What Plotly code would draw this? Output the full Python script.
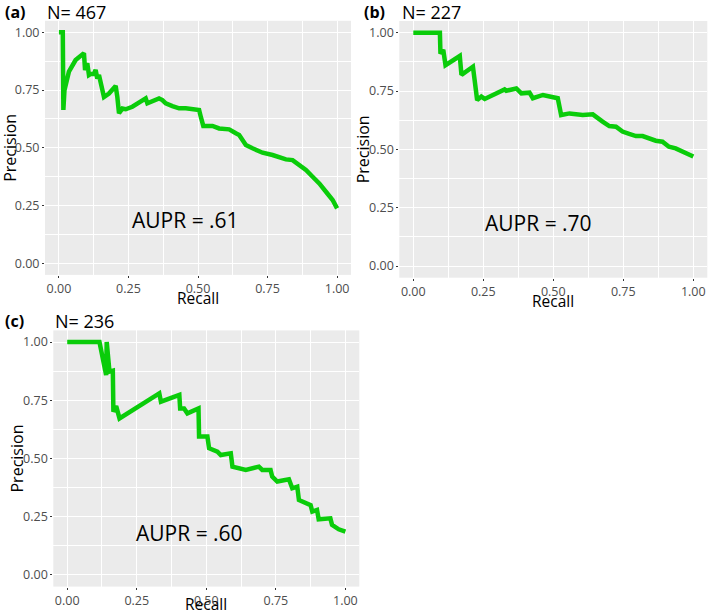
import plotly.graph_objects as go

W, H = 709, 615

# panel (a) N=467
a_recall = [0.0, 0.014, 0.016, 0.02, 0.036, 0.06, 0.09, 0.094, 0.102, 0.108, 0.115, 0.126, 0.132,
            0.138, 0.144, 0.15, 0.162, 0.18, 0.204, 0.21, 0.216, 0.228, 0.24, 0.264, 0.312, 0.318,
            0.36, 0.372, 0.384, 0.408, 0.432, 0.456, 0.504, 0.51, 0.519, 0.552, 0.576, 0.612, 0.624,
            0.636, 0.648, 0.66, 0.672, 0.696, 0.732, 0.768, 0.792, 0.816, 0.84, 0.864, 0.888, 0.912,
            0.936, 0.96, 0.984, 1.0]
a_precision = [1.0, 1.0, 0.664, 0.75, 0.83, 0.88, 0.91, 0.837, 0.866, 0.815, 0.82, 0.82, 0.837,
               0.80, 0.815, 0.78, 0.72, 0.735, 0.768, 0.72, 0.65, 0.67, 0.667, 0.678, 0.714, 0.693,
               0.714, 0.707, 0.693, 0.681, 0.671, 0.671, 0.664, 0.635, 0.595, 0.595, 0.584, 0.58, 0.574,
               0.563, 0.556, 0.534, 0.512, 0.498, 0.479, 0.469, 0.459, 0.45, 0.447, 0.426, 0.404, 0.375,
               0.346, 0.31, 0.274, 0.238]

# panel (b) N=227
b_recall = [0.0, 0.095, 0.097, 0.107, 0.115, 0.166, 0.172, 0.213, 0.219, 0.228, 0.243, 0.255, 0.326,
            0.332, 0.368, 0.386, 0.415, 0.427, 0.463, 0.486, 0.516, 0.528, 0.558, 0.605, 0.641, 0.676,
            0.7, 0.724, 0.747, 0.771, 0.795, 0.819, 0.842, 0.866, 0.89, 0.913, 0.937, 0.961, 1.0]
b_precision = [1.0, 1.0, 0.91, 0.926, 0.861, 0.9, 0.819, 0.854, 0.797, 0.711, 0.726, 0.716, 0.757,
               0.751, 0.761, 0.74, 0.743, 0.719, 0.733, 0.729, 0.719, 0.647, 0.654, 0.647, 0.65, 0.619,
               0.6, 0.597, 0.576, 0.566, 0.557, 0.557, 0.547, 0.537, 0.533, 0.511, 0.504, 0.49, 0.469]

# panel (c) N=236
c_recall = [0.0, 0.116, 0.14, 0.142, 0.152, 0.164, 0.166, 0.176, 0.188, 0.331, 0.337, 0.403, 0.406,
            0.42, 0.432, 0.472, 0.474, 0.504, 0.51, 0.54, 0.552, 0.588, 0.594, 0.618, 0.642, 0.689,
            0.701, 0.731, 0.737, 0.755, 0.797, 0.809, 0.827, 0.833, 0.857, 0.875, 0.881, 0.898, 0.904,
            0.946, 0.952, 0.964, 0.976, 1.0]
c_precision = [1.0, 1.0, 0.858, 1.0, 0.873, 0.877, 0.701, 0.725, 0.672, 0.78, 0.744, 0.773, 0.715,
               0.715, 0.694, 0.715, 0.594, 0.594, 0.544, 0.529, 0.515, 0.522, 0.465, 0.458, 0.451, 0.465,
               0.451, 0.451, 0.422, 0.401, 0.411, 0.372, 0.379, 0.322, 0.31, 0.3, 0.272, 0.279, 0.239,
               0.243, 0.215, 0.207, 0.196, 0.186]

panel_tags = ['(a)', '(b)', '(c)']
panel_n = ['N= 467', 'N= 227', 'N= 236']
aupr_labels = ['AUPR = .61', 'AUPR = .70', 'AUPR = .60']
tick_vals = [0, 0.25, 0.5, 0.75, 1.0]
tick_text = ['0.00', '0.25', '0.50', '0.75', '1.00']

GREEN = '#0ACC0A'
FONT = 'Open Sans'


def px_x(p):
    return p / W


def px_y(p):
    return 1 - p / H


# pixel boxes of the three panels: left, right, top, bottom
boxes = [(45, 351, 20.8, 274.9), (399.3, 707.3, 21, 277.7), (53.3, 359.3, 330.4, 586.6)]
series = [(a_recall, a_precision), (b_recall, b_precision), (c_recall, c_precision)]

fig = go.Figure()
anns = []
for i, ((l, r, t, b), (rx, ry)) in enumerate(zip(boxes, series)):
    sfx = '' if i == 0 else str(i + 1)
    fig.add_trace(go.Scatter(x=rx, y=ry, mode='lines', line=dict(color=GREEN, width=4.5),
                             xaxis='x' + sfx, yaxis='y' + sfx, showlegend=False))
    ax = dict(range=[-0.05, 1.05], tickvals=tick_vals, ticktext=tick_text, showgrid=True,
              gridcolor='white', gridwidth=1.3, zeroline=False, ticks='outside', ticklen=2,
              tickcolor='#333333', tickfont=dict(family=FONT, size=12.5, color='#4D4D4D'),
              minor=dict(showgrid=True, gridcolor='white', gridwidth=0.6, tickvals=[0.125, 0.375, 0.625, 0.875]),
              showline=False, fixedrange=True)
    fig.update_layout(**{
        'xaxis' + sfx: dict(ax, domain=[px_x(l), px_x(r)], anchor='y' + sfx),
        'yaxis' + sfx: dict(ax, domain=[px_y(b), px_y(t)], anchor='x' + sfx),
    })
    # panel tag and N
    tag_x = 3 if i != 1 else 362
    anns.append(dict(x=px_x(tag_x), y=px_y(t - 9), xref='paper', yref='paper', text='<b>' + panel_tags[i] + '</b>',
                     showarrow=False, xanchor='left', yanchor='middle', font=dict(family=FONT, size=16, color='black')))
    n_x = 45 if i == 0 else (400 if i == 1 else 53)
    anns.append(dict(x=px_x(n_x), y=px_y(t - 9), xref='paper', yref='paper', text=panel_n[i],
                     showarrow=False, xanchor='left', yanchor='middle', font=dict(family=FONT, size=18, color='black')))
    # axis titles
    rec_y = b + (23 if i < 2 else 17.5)
    anns.append(dict(x=px_x((l + r) / 2), y=px_y(rec_y), xref='paper', yref='paper', text='Recall',
                     showarrow=False, xanchor='center', yanchor='middle', borderpad=0,
                     font=dict(family=FONT, size=15.5, color='black')))
    prec_x = [10, 363, 16][i]
    anns.append(dict(x=px_x(prec_x), y=px_y((t + b) / 2), xref='paper', yref='paper', text='Precision',
                     textangle=-90, showarrow=False, xanchor='center', yanchor='middle', borderpad=0,
                     font=dict(family=FONT, size=16, color='black')))
    # AUPR label
    anns.append(dict(x=[0.454, 0.447, 0.44][i], y=[0.187, 0.184, 0.18][i], xref='x' + sfx, yref='y' + sfx,
                     text=aupr_labels[i], showarrow=False, xanchor='center', yanchor='middle',
                     font=dict(family=FONT, size=21, color='black')))

fig.update_layout(width=W, height=H, margin=dict(l=0, r=0, t=0, b=0), plot_bgcolor='#EBEBEB',
                  paper_bgcolor='white', annotations=anns)
fig.write_html("out.html", config={'displayModeBar': False},
               post_script="document.body.style.margin='0px';document.body.style.overflow='hidden';")
